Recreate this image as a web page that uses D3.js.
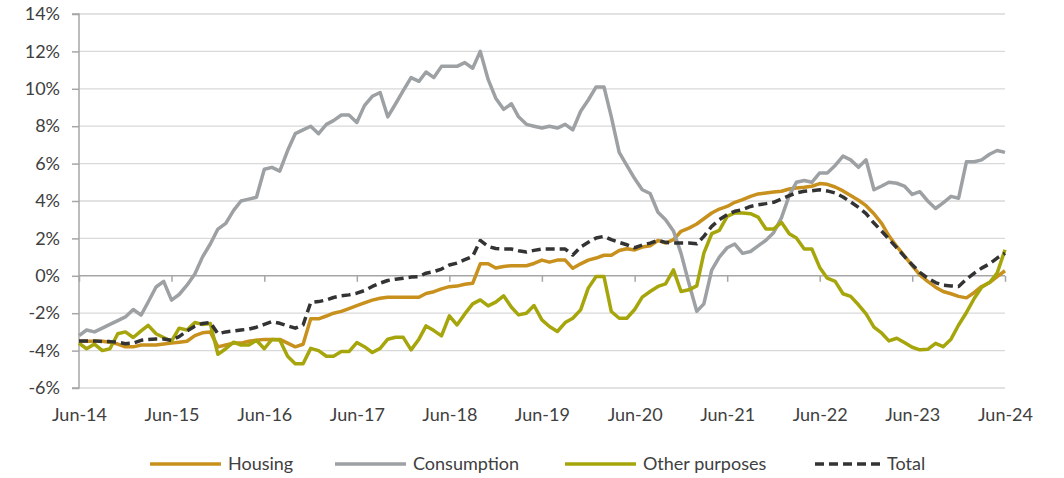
<!DOCTYPE html>
<html lang="en">
<head>
<meta charset="UTF-8">
<title>Credit growth by purpose</title>
<script src="https://d3js.org/d3.v7.min.js"></script>
<style>
  body { margin: 0; background: #fff; }
  svg text { font-family: Lato, "Open Sans", sans-serif; fill: #404040; }
</style>
</head>
<body>
<svg id="chart" width="1064" height="478"></svg>
<script>
// monthly y/y growth, Jun-14 .. Jun-24 (%)
const startMonth = new Date(2014, 5, 1);

const housing = [
  -3.5, -3.5, -3.5, -3.5, -3.55, -3.65, -3.8, -3.8, -3.7, -3.7,
  -3.7, -3.65, -3.6, -3.55, -3.5, -3.2, -3.05, -3.0, -3.8, -3.7,
  -3.6, -3.6, -3.5, -3.45, -3.4, -3.4, -3.4, -3.6, -3.8, -3.66,
  -2.3, -2.3, -2.15, -2.0, -1.9, -1.75, -1.6, -1.45, -1.3, -1.2,
  -1.15, -1.15, -1.15, -1.15, -1.15, -0.95, -0.85, -0.7, -0.58, -0.55,
  -0.45, -0.4, 0.64, 0.64, 0.42, 0.5, 0.54, 0.54, 0.54, 0.66,
  0.84, 0.73, 0.84, 0.84, 0.4, 0.64, 0.84, 0.95, 1.1, 1.1,
  1.35, 1.45, 1.38, 1.54, 1.61, 1.89, 1.75, 1.93, 2.38, 2.55,
  2.77, 3.05, 3.36, 3.57, 3.71, 3.93, 4.07, 4.25, 4.38, 4.43,
  4.48, 4.52, 4.64, 4.7, 4.73, 4.79, 4.93, 4.89, 4.75, 4.54,
  4.29, 4.04, 3.75, 3.32, 2.79, 2.14, 1.57, 1.07, 0.54, 0.05,
  -0.3, -0.61, -0.84, -0.96, -1.1, -1.18, -0.89, -0.57, -0.36, -0.04,
  0.27
];

const consumption = [
  -3.2, -2.9, -3.0, -2.8, -2.6, -2.4, -2.2, -1.8, -2.1, -1.4,
  -0.6, -0.3, -1.3, -1.0, -0.5, 0.1, 1.0, 1.7, 2.5, 2.8,
  3.5, 4.0, 4.1, 4.2, 5.7, 5.8, 5.6, 6.7, 7.6, 7.8,
  8.0, 7.6, 8.1, 8.3, 8.6, 8.6, 8.2, 9.1, 9.6, 9.8,
  8.5, 9.2, 9.9, 10.6, 10.4, 10.9, 10.6, 11.2, 11.2, 11.2,
  11.4, 11.1, 12.0, 10.5, 9.5, 8.9, 9.2, 8.5, 8.1, 8.0,
  7.9, 8.0, 7.9, 8.1, 7.8, 8.8, 9.4, 10.1, 10.1, 8.5,
  6.6, 5.9, 5.2, 4.6, 4.4, 3.4, 3.0, 2.4, 1.2, -0.4,
  -1.9, -1.5, 0.3, 1.0, 1.5, 1.7, 1.2, 1.3, 1.6, 1.9,
  2.3, 3.1, 4.3, 5.0, 5.1, 5.0, 5.5, 5.5, 5.9, 6.4,
  6.2, 5.8, 6.2, 4.6, 4.8, 5.0, 4.95, 4.8, 4.35, 4.5,
  4.0, 3.6, 3.9, 4.25, 4.15, 6.1, 6.1, 6.2, 6.5, 6.7,
  6.6
];

const otherPurposes = [
  -3.6, -3.9, -3.65, -4.0, -3.9, -3.1, -3.0, -3.3, -2.95, -2.65,
  -3.1, -3.3, -3.5, -2.8, -2.9, -2.5, -2.6, -2.55, -4.2, -3.9,
  -3.55, -3.7, -3.7, -3.45, -3.9, -3.4, -3.43, -4.3, -4.7, -4.7,
  -3.88, -4.0, -4.3, -4.3, -4.05, -4.05, -3.57, -3.79, -4.1, -3.88,
  -3.39, -3.29, -3.29, -3.96, -3.39, -2.68, -2.93, -3.21, -2.14, -2.63,
  -2.04, -1.5, -1.29, -1.61, -1.41, -1.07, -1.68, -2.09, -2.0, -1.59,
  -2.36, -2.71, -2.98, -2.5, -2.27, -1.82, -0.66, -0.04, -0.04, -1.91,
  -2.27, -2.27, -1.8, -1.14, -0.84, -0.57, -0.43, 0.32, -0.84, -0.75,
  -0.54, 1.21, 2.25, 2.43, 3.18, 3.36, 3.36, 3.32, 3.14, 2.5,
  2.5, 2.86, 2.25, 2.02, 1.43, 1.43, 0.45, -0.13, -0.3, -0.96,
  -1.1, -1.55, -2.04, -2.75, -3.07, -3.48, -3.34, -3.57, -3.82, -3.96,
  -3.93, -3.61, -3.79, -3.39, -2.63, -1.96, -1.2, -0.61, -0.36, 0.14,
  1.39
];

const total = [
  -3.48, -3.48, -3.48, -3.52, -3.52, -3.55, -3.63, -3.6, -3.45, -3.4,
  -3.38, -3.38, -3.45, -3.25, -2.95, -2.7, -2.55, -2.5, -3.1, -3.0,
  -2.95, -2.9, -2.85, -2.75, -2.6, -2.45, -2.54, -2.68, -2.8, -2.63,
  -1.43, -1.38, -1.29, -1.16, -1.07, -1.02, -0.93, -0.79, -0.57, -0.39,
  -0.25, -0.18, -0.13, -0.07, -0.04, 0.14, 0.23, 0.36, 0.58, 0.68,
  0.86, 1.04, 1.89, 1.57, 1.46, 1.43, 1.43, 1.34, 1.27, 1.36,
  1.43, 1.43, 1.43, 1.43, 1.11, 1.54, 1.79, 2.02, 2.11, 1.93,
  1.79, 1.66, 1.5, 1.64, 1.75, 1.89, 1.79, 1.75, 1.75, 1.75,
  1.71, 2.11, 2.64, 3.0, 3.27, 3.45, 3.54, 3.71, 3.8, 3.86,
  3.93, 4.11, 4.29, 4.43, 4.52, 4.55, 4.6, 4.54, 4.43, 4.21,
  3.95, 3.66, 3.32, 2.82, 2.38, 1.96, 1.5, 1.04, 0.59, 0.18,
  -0.13, -0.36, -0.5, -0.54, -0.57, -0.18, 0.14, 0.41, 0.64, 0.95,
  1.21
];

const tickLabels = ["Jun-14", "Jun-15", "Jun-16", "Jun-17", "Jun-18", "Jun-19",
                    "Jun-20", "Jun-21", "Jun-22", "Jun-23", "Jun-24"];
const yTicks = [-6, -4, -2, 0, 2, 4, 6, 8, 10, 12, 14];
const seriesNames = ["Housing", "Consumption", "Other purposes", "Total"];

const series = [
  { name: seriesNames[0], values: housing, color: "#C8901C", dash: null },
  { name: seriesNames[1], values: consumption, color: "#9DA1A4", dash: null },
  { name: seriesNames[2], values: otherPurposes, color: "#A6A60C", dash: null },
  { name: seriesNames[3], values: total, color: "#333333", dash: "9,5" }
];

const margin = { top: 14, right: 59, bottom: 90, left: 79 };
const W = 1064, H = 478;
const plotW = W - margin.left - margin.right;
const plotH = H - margin.top - margin.bottom;

const months = d3.timeMonth.range(startMonth, d3.timeMonth.offset(startMonth, housing.length));
const yearTicks = months.filter((d, i) => i % 12 === 0);

const x = d3.scaleTime().domain(d3.extent(months)).range([0, plotW]);
const y = d3.scaleLinear().domain([-6, 14]).range([plotH, 0]);

const svg = d3.select("#chart");
const g = svg.append("g").attr("transform", `translate(${margin.left},${margin.top})`);

// gridlines
g.append("g")
  .selectAll("line")
  .data(yTicks.filter(t => t !== 0))
  .join("line")
  .attr("x1", 0).attr("x2", plotW)
  .attr("y1", d => y(d)).attr("y2", d => y(d))
  .attr("stroke", "#D9D9D9")
  .attr("stroke-width", 1.3);

// y axis
const yAxis = g.append("g")
  .call(d3.axisLeft(y).tickValues(yTicks).tickSize(7).tickPadding(12).tickFormat(d => d + "%"));
yAxis.selectAll("line, path").attr("stroke", "#A6A6A6").attr("stroke-width", 1.5);
yAxis.select(".domain").attr("d", `M-7,${plotH}H0V0H-7`);
yAxis.selectAll("text").style("font-size", "18px").attr("fill", "#404040");

// x axis line at zero with ticks
const xAxis = g.append("g")
  .attr("transform", `translate(0,${y(0)})`)
  .call(d3.axisBottom(x).tickValues(yearTicks).tickSize(6).tickFormat(""));
xAxis.selectAll("line, path").attr("stroke", "#A6A6A6").attr("stroke-width", 1.5);
xAxis.select(".domain").attr("d", `M0,0H${plotW}`);

// x tick labels below the plot
const xLabels = g.append("g")
  .attr("transform", `translate(0,${plotH})`)
  .call(d3.axisBottom(x).tickValues(yearTicks).tickSize(0).tickPadding(20)
    .tickFormat((d, i) => tickLabels[i]));
xLabels.select(".domain").remove();
xLabels.selectAll("text").style("font-size", "18px").attr("fill", "#404040");

// lines
const line = d3.line()
  .x((d, i) => x(months[i]))
  .y(d => y(d));

g.append("g")
  .selectAll("path")
  .data(series)
  .join("path")
  .attr("d", d => line(d.values))
  .attr("fill", "none")
  .attr("stroke", d => d.color)
  .attr("stroke-width", 3.5)
  .attr("stroke-linejoin", "round")
  .attr("stroke-dasharray", d => d.dash);

// legend
const legendX = [150, 335, 565, 815];
const legendY = 464;
const legend = svg.append("g");
series.forEach((s, i) => {
  const item = legend.append("g").attr("transform", `translate(${legendX[i]},${legendY})`);
  item.append("line")
    .attr("x1", 0).attr("x2", s.dash ? 66 : 71)
    .attr("y1", 0).attr("y2", 0)
    .attr("stroke", s.color)
    .attr("stroke-width", 3.5)
    .attr("stroke-dasharray", s.dash ? "9,5" : null);
  item.append("text")
    .attr("x", s.dash ? 72 : 78)
    .attr("y", 0)
    .attr("dy", "0.35em")
    .style("font-size", "18px")
    .text(s.name);
});
</script>
</body>
</html>
